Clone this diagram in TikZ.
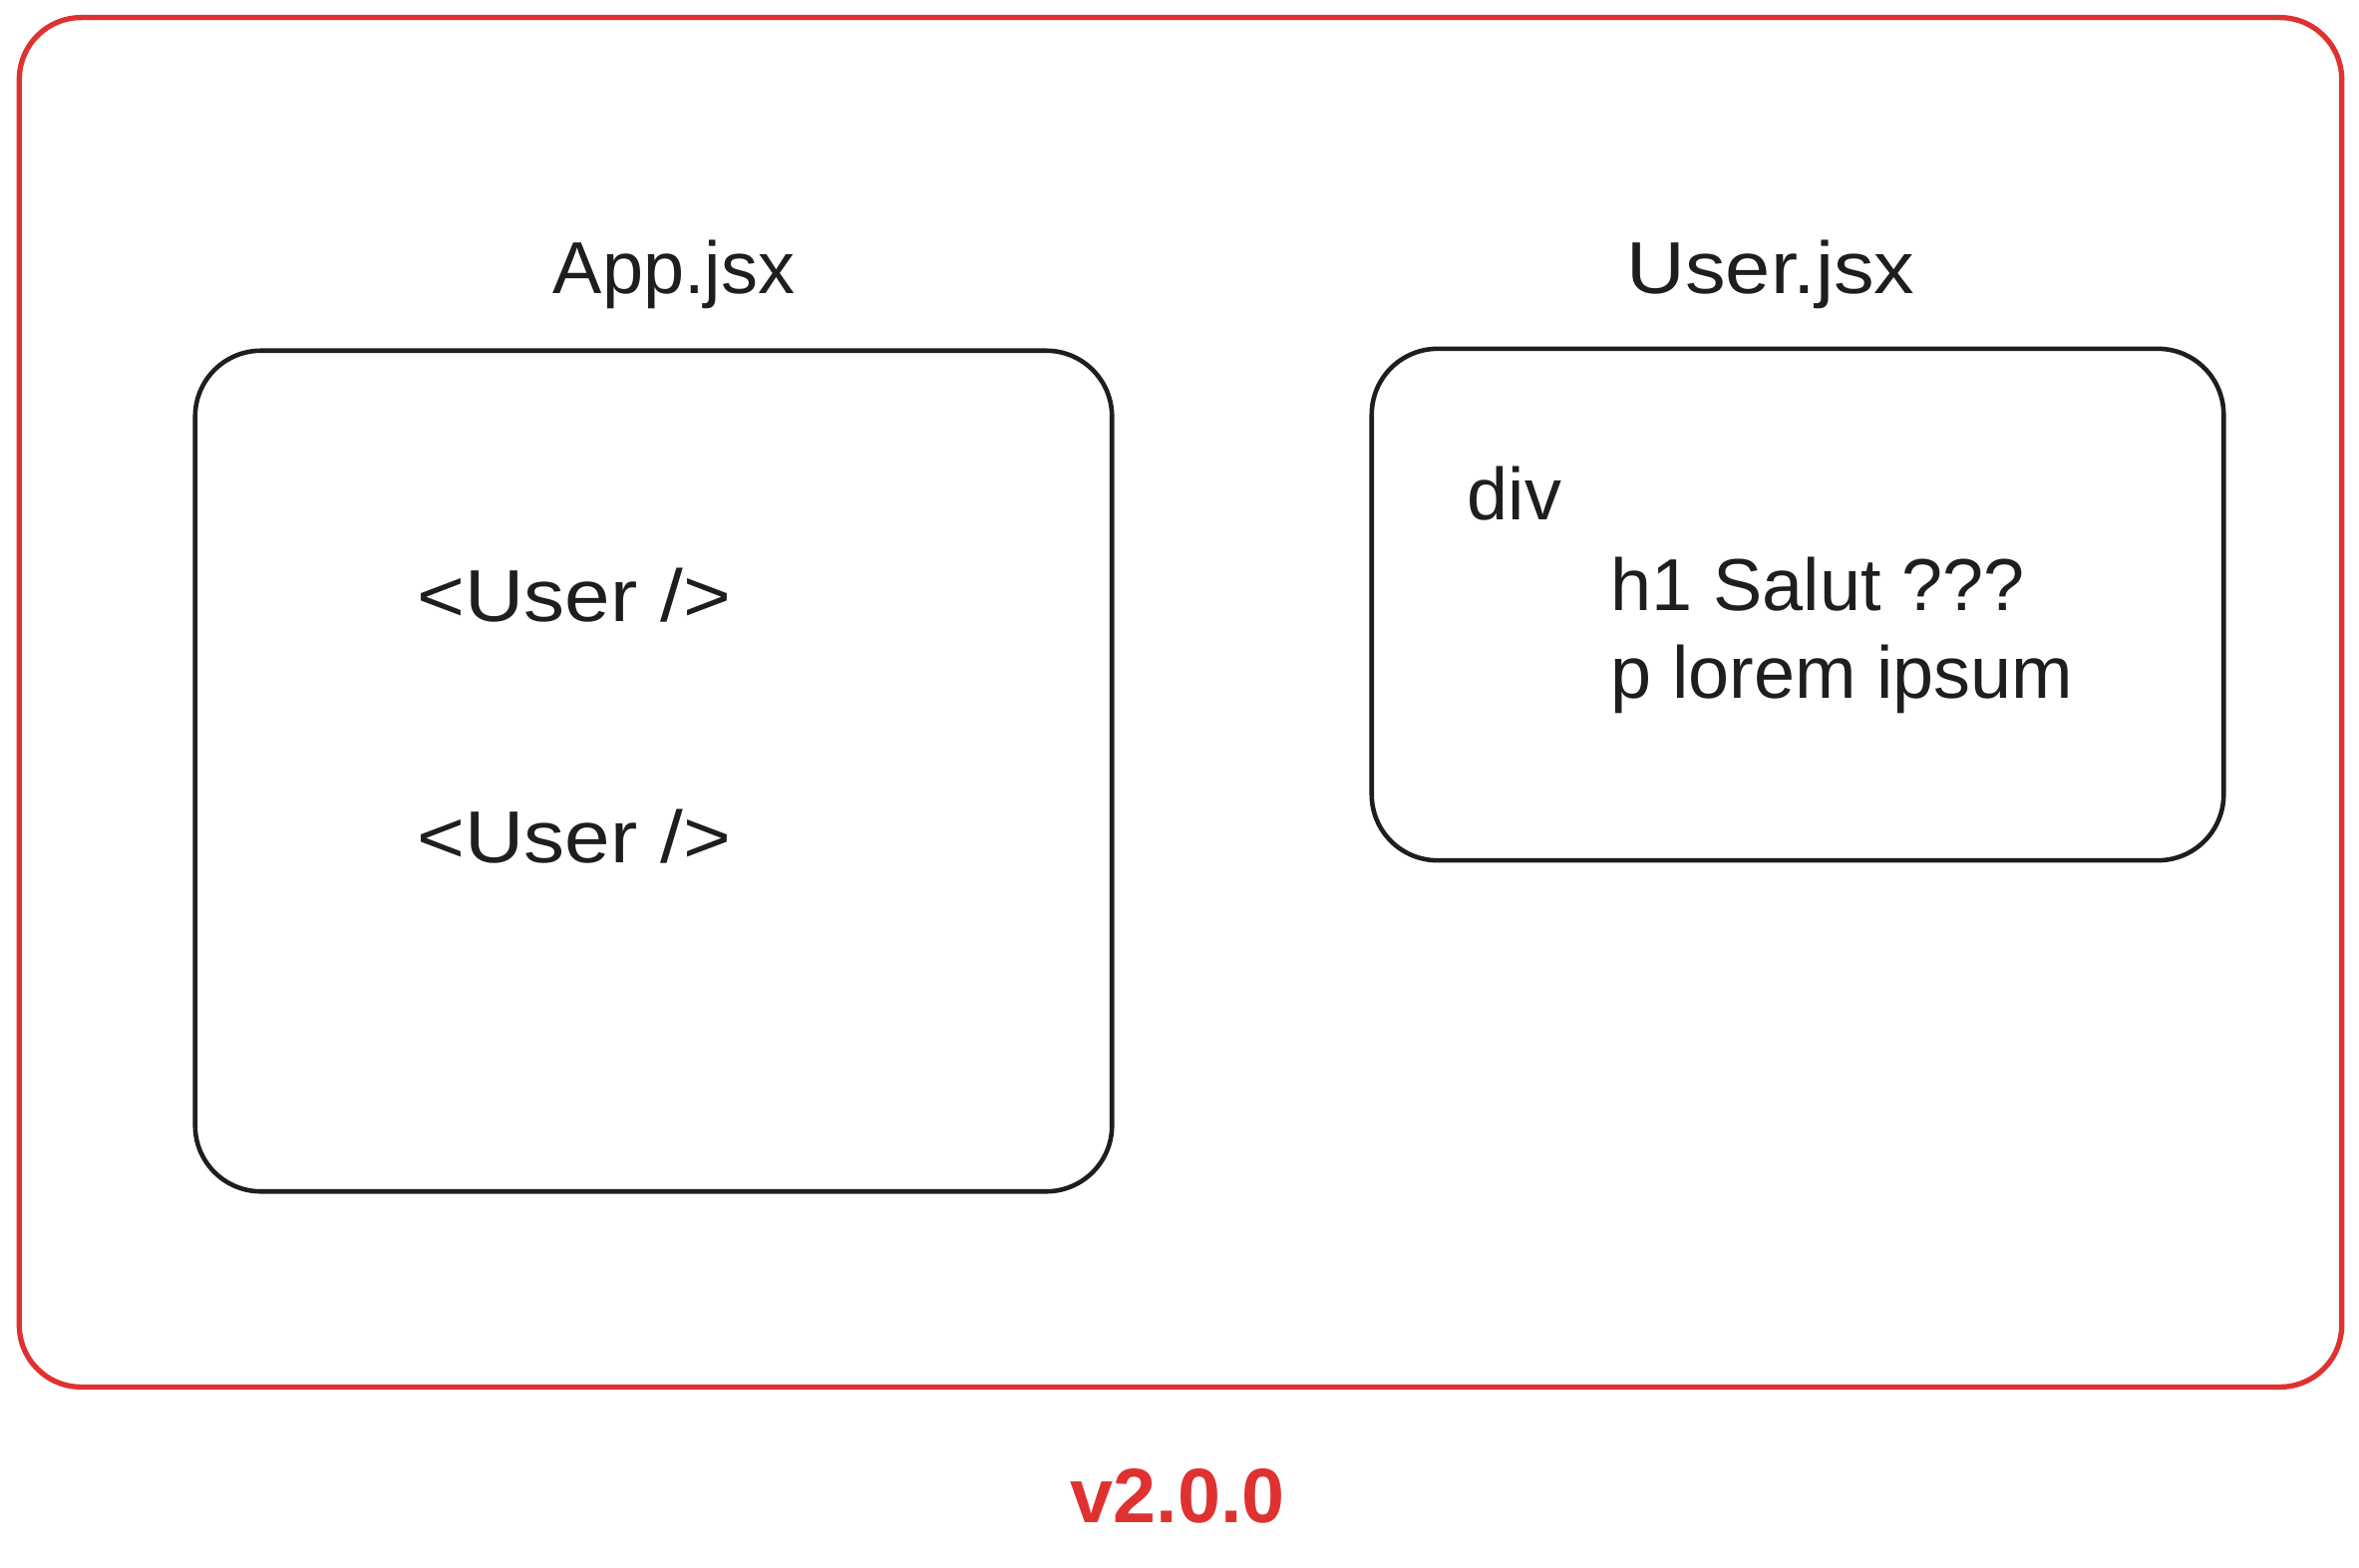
\documentclass[tikz,border=0pt]{standalone}
\usepackage{fontspec}
\setmainfont{Liberation Sans}
\definecolor{exred}{HTML}{E03131}
\definecolor{exblack}{HTML}{1E1E1E}
\begin{document}
\begin{tikzpicture}[x=0.01cm,y=-0.01cm,
  frame/.style={draw=exred,line width=1.5pt,rounded corners=0.62cm,inner sep=0pt},
  panel/.style={draw=exblack,line width=1.3pt,rounded corners=0.66cm,inner sep=0pt},
  txt/.style={text=exblack,font=\fontsize{21}{25}\selectfont,inner sep=0pt},
  ver/.style={text=exred,font=\fontsize{22}{26}\selectfont\bfseries,inner sep=0pt}]
\useasboundingbox[fill=white] (0,0) rectangle (2366,1572);
\node[frame,minimum width=23.28cm,minimum height=13.73cm] (outer) at (1184,704.5) {};
\node[panel,minimum width=9.19cm,minimum height=8.43cm] (app) at (655.5,773.5) {};
\node[panel,minimum width=8.54cm,minimum height=5.13cm] (user) at (1803,606.5) {};
\node[txt,anchor=base] (applabel) at (676,294) {App.jsx};
\node[txt,anchor=base] (userlabel) at (1776,294) {\scalebox{1.1}[1]{User.jsx}};
\node[txt,anchor=base] (u1) at (576,623) {\scalebox{1.11}[1]{<User />}};
\node[txt,anchor=base] (u2) at (576,865) {\scalebox{1.11}[1]{<User />}};
\node[txt,anchor=base west] (div) at (1471,521) {div};
\node[txt,anchor=base west] (h1) at (1615,612) {h1 Salut ???};
\node[txt,anchor=base west] (p) at (1615,700) {p lorem ipsum};
\node[ver,anchor=base] (version) at (1181,1527) {v2.0.0};
\end{tikzpicture}
\end{document}
